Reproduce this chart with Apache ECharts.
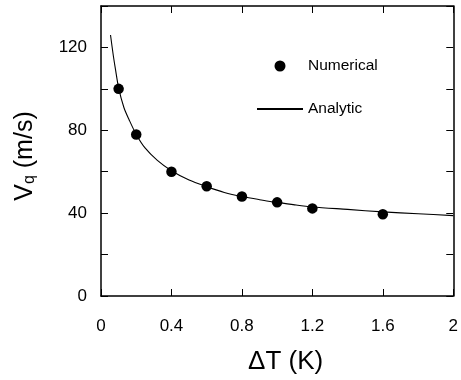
<!DOCTYPE html>
<html>
<head>
<meta charset="utf-8">
<script src="https://cdn.jsdelivr.net/npm/echarts@6/dist/echarts.min.js"></script>
<style>
  html, body { margin: 0; padding: 0; background: #fff; }
  #chart { width: 461px; height: 380px; }
</style>
</head>
<body>
<div id="chart"></div>
<script>
// numerical points (dT in K, Vq in m/s)
const numX = [0.1, 0.2, 0.4, 0.6, 0.8, 1.0, 1.2, 1.6];
const numY = [100, 78, 60, 53, 48, 45.2, 42.3, 39.5];
// analytic curve
const anaX = [0.054, 0.07, 0.082, 0.1, 0.13, 0.16, 0.2, 0.25, 0.32, 0.4, 0.5, 0.6, 0.7, 0.8, 0.9, 1.0, 1.1, 1.2, 1.4, 1.6, 1.8, 2.0];
const anaY = [126, 116, 109.5, 100.5, 91, 85, 78, 71.5, 65.5, 60.5, 56, 52.8, 50, 48, 46.5, 45.2, 44, 43, 41.8, 40.6, 39.7, 38.8];
const xTicks = [0, 2, 0.4];   // min, max, step
const yTicks = [0, 140, 20];

const chart = echarts.init(document.getElementById('chart'));
const font = 'Liberation Sans, Arial, sans-serif';
const axisLine = { show: true, onZero: false, lineStyle: { color: '#000', width: 1.5 } };
const tick = { show: true, inside: true, length: 7, lineStyle: { color: '#000', width: 1 } };

const option = {
  animation: false,
  grid: { left: 101, right: 7, top: 6, bottom: 82 },
  legend: {
    orient: 'vertical',
    left: 256, top: 58, padding: 0,
    itemWidth: 46, itemHeight: 11, itemGap: 27,
    textStyle: { fontFamily: font, fontSize: 15.5, color: '#000' },
    data: [
      'Numerical',
      { name: 'Analytic', itemStyle: { opacity: 0 } }
    ]
  },
  xAxis: [{
    type: 'value', min: xTicks[0], max: xTicks[1], interval: xTicks[2],
    axisLine, axisTick: tick, splitLine: { show: false },
    axisLabel: { fontFamily: font, fontSize: 17, color: '#000', margin: 22 },
    name: 'ΔT (K)', nameLocation: 'middle', nameGap: 53,
    nameTextStyle: { fontFamily: font, fontSize: 26, color: '#000', padding: [0, 0, 0, 17] }
  }, {
    type: 'value', position: 'top', min: xTicks[0], max: xTicks[1], interval: xTicks[2],
    axisLine, axisTick: tick, splitLine: { show: false }, axisLabel: { show: false }
  }],
  yAxis: [{
    type: 'value', min: yTicks[0], max: yTicks[1], interval: yTicks[2],
    axisLine, axisTick: tick, splitLine: { show: false },
    axisLabel: {
      fontFamily: font, fontSize: 17, color: '#000', margin: 14,
      formatter: v => (v % 40 === 0 ? String(v) : '')
    },
    name: '{v|V}{q|q}{u| (m/s)}', nameLocation: 'middle', nameGap: 63, nameRotate: 90,
    nameTextStyle: {
      fontFamily: font, color: '#000', padding: [0, 10, 0, 0],
      rich: {
        v: { fontFamily: font, fontSize: 25, color: '#000' },
        q: { fontFamily: font, fontSize: 16, color: '#000', padding: [10, 0, 0, 0] },
        u: { fontFamily: font, fontSize: 25, color: '#000' }
      }
    }
  }, {
    type: 'value', position: 'right', min: yTicks[0], max: yTicks[1], interval: yTicks[2],
    axisLine, axisTick: tick, splitLine: { show: false }, axisLabel: { show: false }
  }],
  series: [{
    name: 'Numerical', type: 'scatter', symbol: 'circle', symbolSize: 10.5,
    itemStyle: { color: '#000', opacity: 1 },
    data: numX.map((x, i) => [x, numY[i]]), z: 3
  }, {
    name: 'Analytic', type: 'line', symbol: 'none', smooth: 0.3,
    lineStyle: { color: '#000', width: 1.1 }, itemStyle: { color: '#000' },
    data: anaX.map((x, i) => [x, anaY[i]])
  }]
};
chart.setOption(option);
</script>
</body>
</html>
